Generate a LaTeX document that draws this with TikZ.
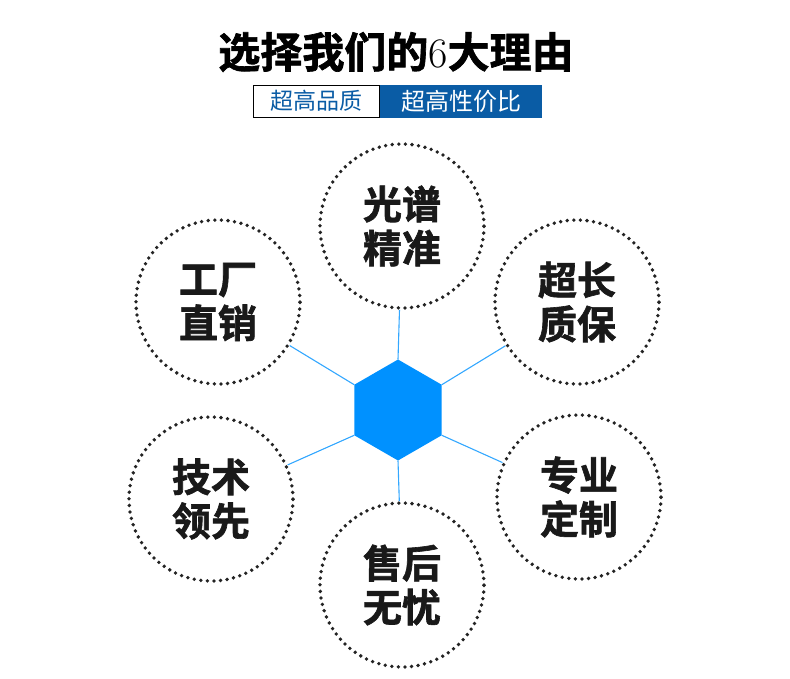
\documentclass[tikz,border=0pt]{standalone}
\usepackage{fontspec}
\setmainfont{Noto Sans CJK SC}
\newfontfamily\cjkbold{Noto Sans CJK SC Bold}[FakeBold=1.6]
\usepackage{xcolor}
\usetikzlibrary{shapes.geometric}

\definecolor{hexblue}{RGB}{0,145,255}
\definecolor{tagblue}{RGB}{10,92,165}
\definecolor{dotgray}{RGB}{35,35,35}

\begin{document}
\begin{tikzpicture}[
  x=1pt, y=-1pt,
  reason/.style={
    circle, draw=dotgray, line width=3.8pt, line cap=round,
    dash pattern=on 0pt off 6.6pt, minimum size=164pt, inner sep=0pt,
    align=center, text=black!90,
    font=\cjkbold\fontsize{39}{44}\selectfont
  },
  tag/.style={
    draw, line width=1pt, minimum height=32pt, inner sep=0pt
  },
  link/.style={draw=hexblue!80, line width=1.1pt}
]
\useasboundingbox (0,0) rectangle (790,678);

% Title
\node[font=\cjkbold\fontsize{42}{42}\selectfont] (title) at (396,52)
  {选择我们的{\fontspec{Latin Modern Roman}6}大理由};

% Tags
\node[tag, draw=black, fill=white, text=tagblue, minimum width=126pt,
  font=\fontsize{23}{23}\selectfont, anchor=east] (quality) at (380,101) {超高品质};
\node[tag, draw=tagblue, fill=tagblue, text=white, minimum width=161pt,
  font=\fontsize{24}{24}\selectfont, anchor=west] (value) at (380,101) {超高性价比};

% Centre
\node[regular polygon, regular polygon sides=6, shape border rotate=30,
  fill=hexblue, minimum size=101pt, inner sep=0pt, outer sep=0pt] (hex)
  at (398,410) {};

% Reasons
\node[reason] (spectrum) at (402,226) {光谱\\精准};
\node[reason] (factory) at (218,302) {工厂\\直销};
\node[reason] (warranty) at (577,302) {超长\\质保};
\node[reason] (tech) at (211,499) {技术\\领先};
\node[reason] (custom) at (579,497) {专业\\定制};
\node[reason] (service) at (402,585) {售后\\无忧};

% Links
\draw[link] (hex.corner 1) -- (spectrum);
\draw[link] (hex.corner 2) -- (factory);
\draw[link] (hex.corner 3) -- (tech);
\draw[link] (hex.corner 4) -- (service);
\draw[link] (hex.corner 5) -- (custom);
\draw[link] (hex.corner 6) -- (warranty);

\end{tikzpicture}
\end{document}
